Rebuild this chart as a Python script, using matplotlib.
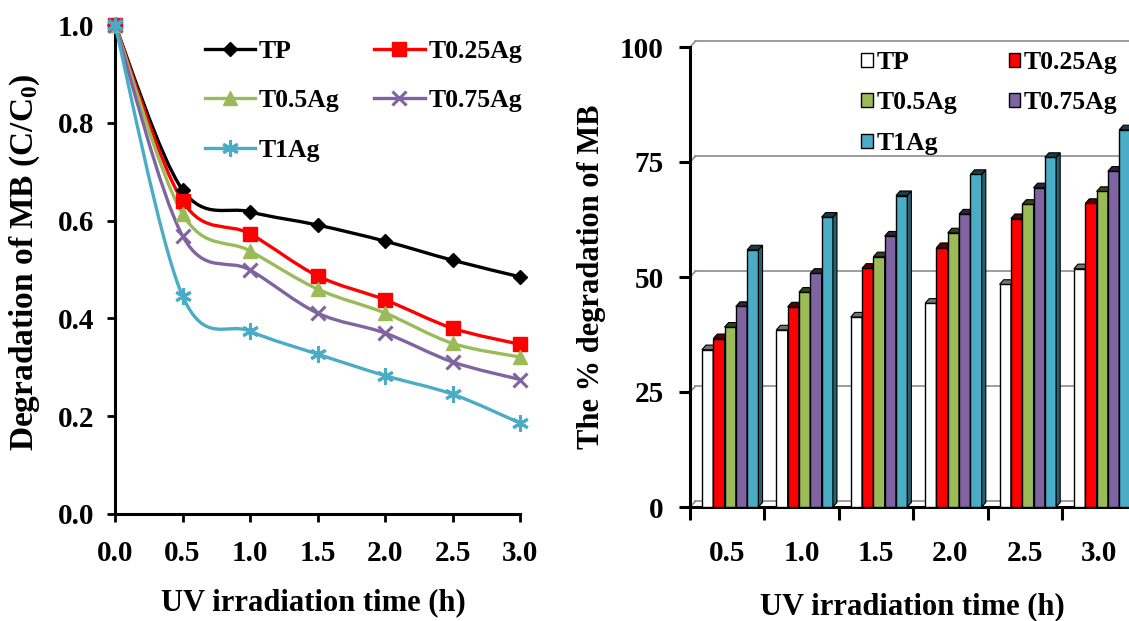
import numpy as np
import matplotlib
matplotlib.use('Agg')
import matplotlib.pyplot as plt
from matplotlib.path import Path
from matplotlib.patches import PathPatch, Polygon, Patch
from matplotlib.lines import Line2D
from matplotlib.colors import to_rgb

plt.rcParams['font.family'] = ['Liberation Serif', 'DejaVu Serif']
plt.rcParams['font.weight'] = 'bold'
plt.rcParams['mathtext.fontset'] = 'custom'
plt.rcParams['mathtext.rm'] = 'Liberation Serif:bold'
plt.rcParams['mathtext.bf'] = 'Liberation Serif:bold'
plt.rcParams['mathtext.it'] = 'Liberation Serif:bold'

# ---------------- data ----------------
time_h = [0.0, 0.5, 1.0, 1.5, 2.0, 2.5, 3.0]
series_names = ["TP", "T0.25Ag", "T0.5Ag", "T0.75Ag", "T1Ag"]
tp_ratio = [1.0, 0.663, 0.618, 0.591, 0.558, 0.519, 0.485]
t025_ratio = [1.0, 0.640, 0.573, 0.487, 0.438, 0.380, 0.347]
t05_ratio = [1.0, 0.614, 0.538, 0.460, 0.411, 0.349, 0.321]
t075_ratio = [1.0, 0.569, 0.499, 0.411, 0.370, 0.311, 0.275]
t1_ratio = [1.0, 0.446, 0.374, 0.327, 0.283, 0.245, 0.186]

bar_times = ["0.5", "1.0", "1.5", "2.0", "2.5", "3.0"]
tp_pct = [34.2, 38.5, 41.3, 44.3, 48.4, 51.8]
t025_pct = [36.6, 43.5, 51.9, 56.4, 62.7, 66.0]
t05_pct = [39.1, 46.7, 54.4, 59.6, 65.8, 68.6]
t075_pct = [43.6, 50.8, 58.9, 63.7, 69.4, 73.0]
t1_pct = [55.9, 63.0, 67.7, 72.3, 76.0, 82.0]

left_yticks = [0.0, 0.2, 0.4, 0.6, 0.8, 1.0]
right_yticks = [0, 25, 50, 75, 100]

# ---------------- styles ----------------
line_colors = ['#000000', '#FF0000', '#9BBB59', '#8064A2', '#4BACC6']
bar_colors = ['#FFFFFF', '#FF0000', '#9BBB59', '#8064A2', '#4BACC6']
markers = ['D', 's', '^', 'x', (6, 2, 0)]
msizes = [7, 10, 10, 10, 12]
# legend order so that a 2-column (column-filled) legend reads row by row
leg_order = [0, 2, 4, 1, 3]

TICK_FS = 21
LABEL_FS = 22
LEG_FS = 18.5

W, H = 1129, 621
fig = plt.figure(figsize=(W / 100, H / 100), dpi=100)


def smooth_path(x, y):
    pts = np.column_stack([x, y]).astype(float)
    n = len(pts)
    verts = [pts[0]]
    codes = [Path.MOVETO]
    for i in range(n - 1):
        p0 = pts[i - 1] if i > 0 else pts[i]
        p1 = pts[i]
        p2 = pts[i + 1]
        p3 = pts[i + 2] if i + 2 < n else pts[i + 1]
        c1 = p1 + (p2 - p0) / 6.0
        c2 = p2 - (p3 - p1) / 6.0
        verts += [c1, c2, p2]
        codes += [Path.CURVE4] * 3
    return Path(verts, codes)


# ---------------- left chart ----------------
axL = fig.add_axes([115 / W, 107 / H, 405 / W, 489 / H])
ratios = [tp_ratio, t025_ratio, t05_ratio, t075_ratio, t1_ratio]
handles = []
for name, vals, c, m, ms in zip(series_names, ratios, line_colors, markers, msizes):
    patch = PathPatch(smooth_path(time_h, vals), fill=False, edgecolor=c,
                      lw=2.4, zorder=3, clip_on=False)
    axL.add_patch(patch)
    mew = 2.2 if m in ('x',) or isinstance(m, tuple) else 1
    axL.plot(time_h, vals, linestyle='none', marker=m, ms=ms, color=c,
             mec=c, mew=mew, zorder=4, clip_on=False)
    handles.append(Line2D([], [], color=c, lw=2.4, marker=m, ms=ms, mec=c, mew=mew))

axL.set_xlim(0, 3.0)
axL.set_ylim(0, 1.0)
axL.set_xticks(time_h)
axL.set_xticklabels([f"{t:.1f}" for t in time_h])
axL.set_yticks(left_yticks)
axL.set_yticklabels([f"{t:.1f}" for t in left_yticks])
for s in ['top', 'right']:
    axL.spines[s].set_visible(False)
for s in ['left', 'bottom']:
    axL.spines[s].set_linewidth(2.2)
axL.tick_params(axis='both', labelsize=TICK_FS, width=2, length=6, direction='out')
axL.tick_params(axis='x', pad=13)
axL.tick_params(axis='y', pad=9)
axL.set_xlabel("UV irradiation time (h)", fontsize=LABEL_FS, fontweight='bold')
axL.xaxis.set_label_coords(0.49, -0.152)
axL.set_ylabel(r"Degradation of MB (C/C$_0$)", fontsize=24, fontweight='bold')
axL.yaxis.set_label_coords(-0.18, 0.515)

fig.legend([handles[k] for k in leg_order], [series_names[k] for k in leg_order],
           loc='upper left', bbox_to_anchor=(205 / W, 1 - 40 / H), ncol=2,
           frameon=False, fontsize=LEG_FS, handlelength=1.95, handletextpad=0.15,
           columnspacing=1.35, labelspacing=1.03, borderpad=0, borderaxespad=0)

# ---------------- right chart ----------------
axR = fig.add_axes([690 / W, 114 / H, 446.5 / W, 460 / H])
pcts = [tp_pct, t025_pct, t05_pct, t075_pct, t1_pct]
xc = np.arange(len(bar_times))
bw = 0.152
shift = 0.04
dx, dy = 0.055, 1.0     # depth of the pseudo-3D faces (data units)
gdx, gdy = 0.07, 1.2    # back-wall offset


def darker(c, f):
    r, g, b = to_rgb(c)
    return (r * f, g * f, b * f)


for i, (name, vals, c) in enumerate(zip(series_names, pcts, bar_colors)):
    xs = xc + (i - 2) * bw + shift
    axR.bar(xs, vals, width=bw, color=c, edgecolor='black', linewidth=1.0,
            zorder=5 + i, label=name)
    side_c = darker(c, 0.55) if c != '#FFFFFF' else (0.75, 0.75, 0.75)
    top_c = darker(c, 0.35) if c != '#FFFFFF' else (0.45, 0.45, 0.45)
    for xb, v in zip(xs, vals):
        x0 = xb - bw / 2
        x1 = xb + bw / 2
        side = Polygon([(x1, 0), (x1 + dx, dy), (x1 + dx, v + dy), (x1, v)],
                       closed=True, facecolor=side_c, edgecolor='black', lw=0.8,
                       zorder=5 + i, clip_on=False)
        top = Polygon([(x0, v), (x0 + dx, v + dy), (x1 + dx, v + dy), (x1, v)],
                      closed=True, facecolor=top_c, edgecolor='black', lw=0.8,
                      zorder=5 + i, clip_on=False)
        axR.add_patch(side)
        axR.add_patch(top)

# back wall gridlines and floor
for g in [0] + right_yticks[1:]:
    axR.plot([-0.5 + gdx, 5.5 + gdx], [g + gdy, g + gdy], color='#8C8C8C', lw=1.2,
             zorder=1, clip_on=False)
    axR.plot([-0.5, -0.5 + gdx], [g, g + gdy], color='#8C8C8C', lw=1.2,
             zorder=1, clip_on=False)

axR.set_xlim(-0.5, 5.5)
axR.set_ylim(0, 100)
axR.set_xticks(xc)
axR.set_xticklabels(bar_times)
axR.set_xticks(np.arange(-0.5, 6.0, 1.0), minor=True)
axR.set_yticks(right_yticks)
for s in ['top', 'right']:
    axR.spines[s].set_visible(False)
for s in ['left', 'bottom']:
    axR.spines[s].set_linewidth(2.2)
axR.tick_params(axis='x', which='major', length=0, pad=24, labelsize=TICK_FS)
axR.tick_params(axis='x', which='minor', length=9, width=2.2, direction='out')
axR.tick_params(axis='y', labelsize=TICK_FS, length=8, width=2.2, pad=11)
axR.set_xlabel("UV irradiation time (h)", fontsize=LABEL_FS, fontweight='bold')
axR.xaxis.set_label_coords(0.498, -0.185)
axR.set_ylabel("The % degradation of MB", fontsize=LABEL_FS, fontweight='bold')
axR.yaxis.set_label_coords(-0.188, 0.5)

leg_handles = [Patch(facecolor=c, edgecolor='black', lw=1.0) for c in bar_colors]
fig.legend([leg_handles[k] for k in leg_order], [series_names[k] for k in leg_order],
           loc='upper left', bbox_to_anchor=(861 / W, 1 - 51 / H), ncol=2,
           frameon=False, fontsize=LEG_FS, handlelength=0.45, handleheight=0.45,
           handletextpad=0.15, columnspacing=2.0, labelspacing=0.68,
           borderpad=0, borderaxespad=0)

fig.savefig('out.png', dpi=100)
